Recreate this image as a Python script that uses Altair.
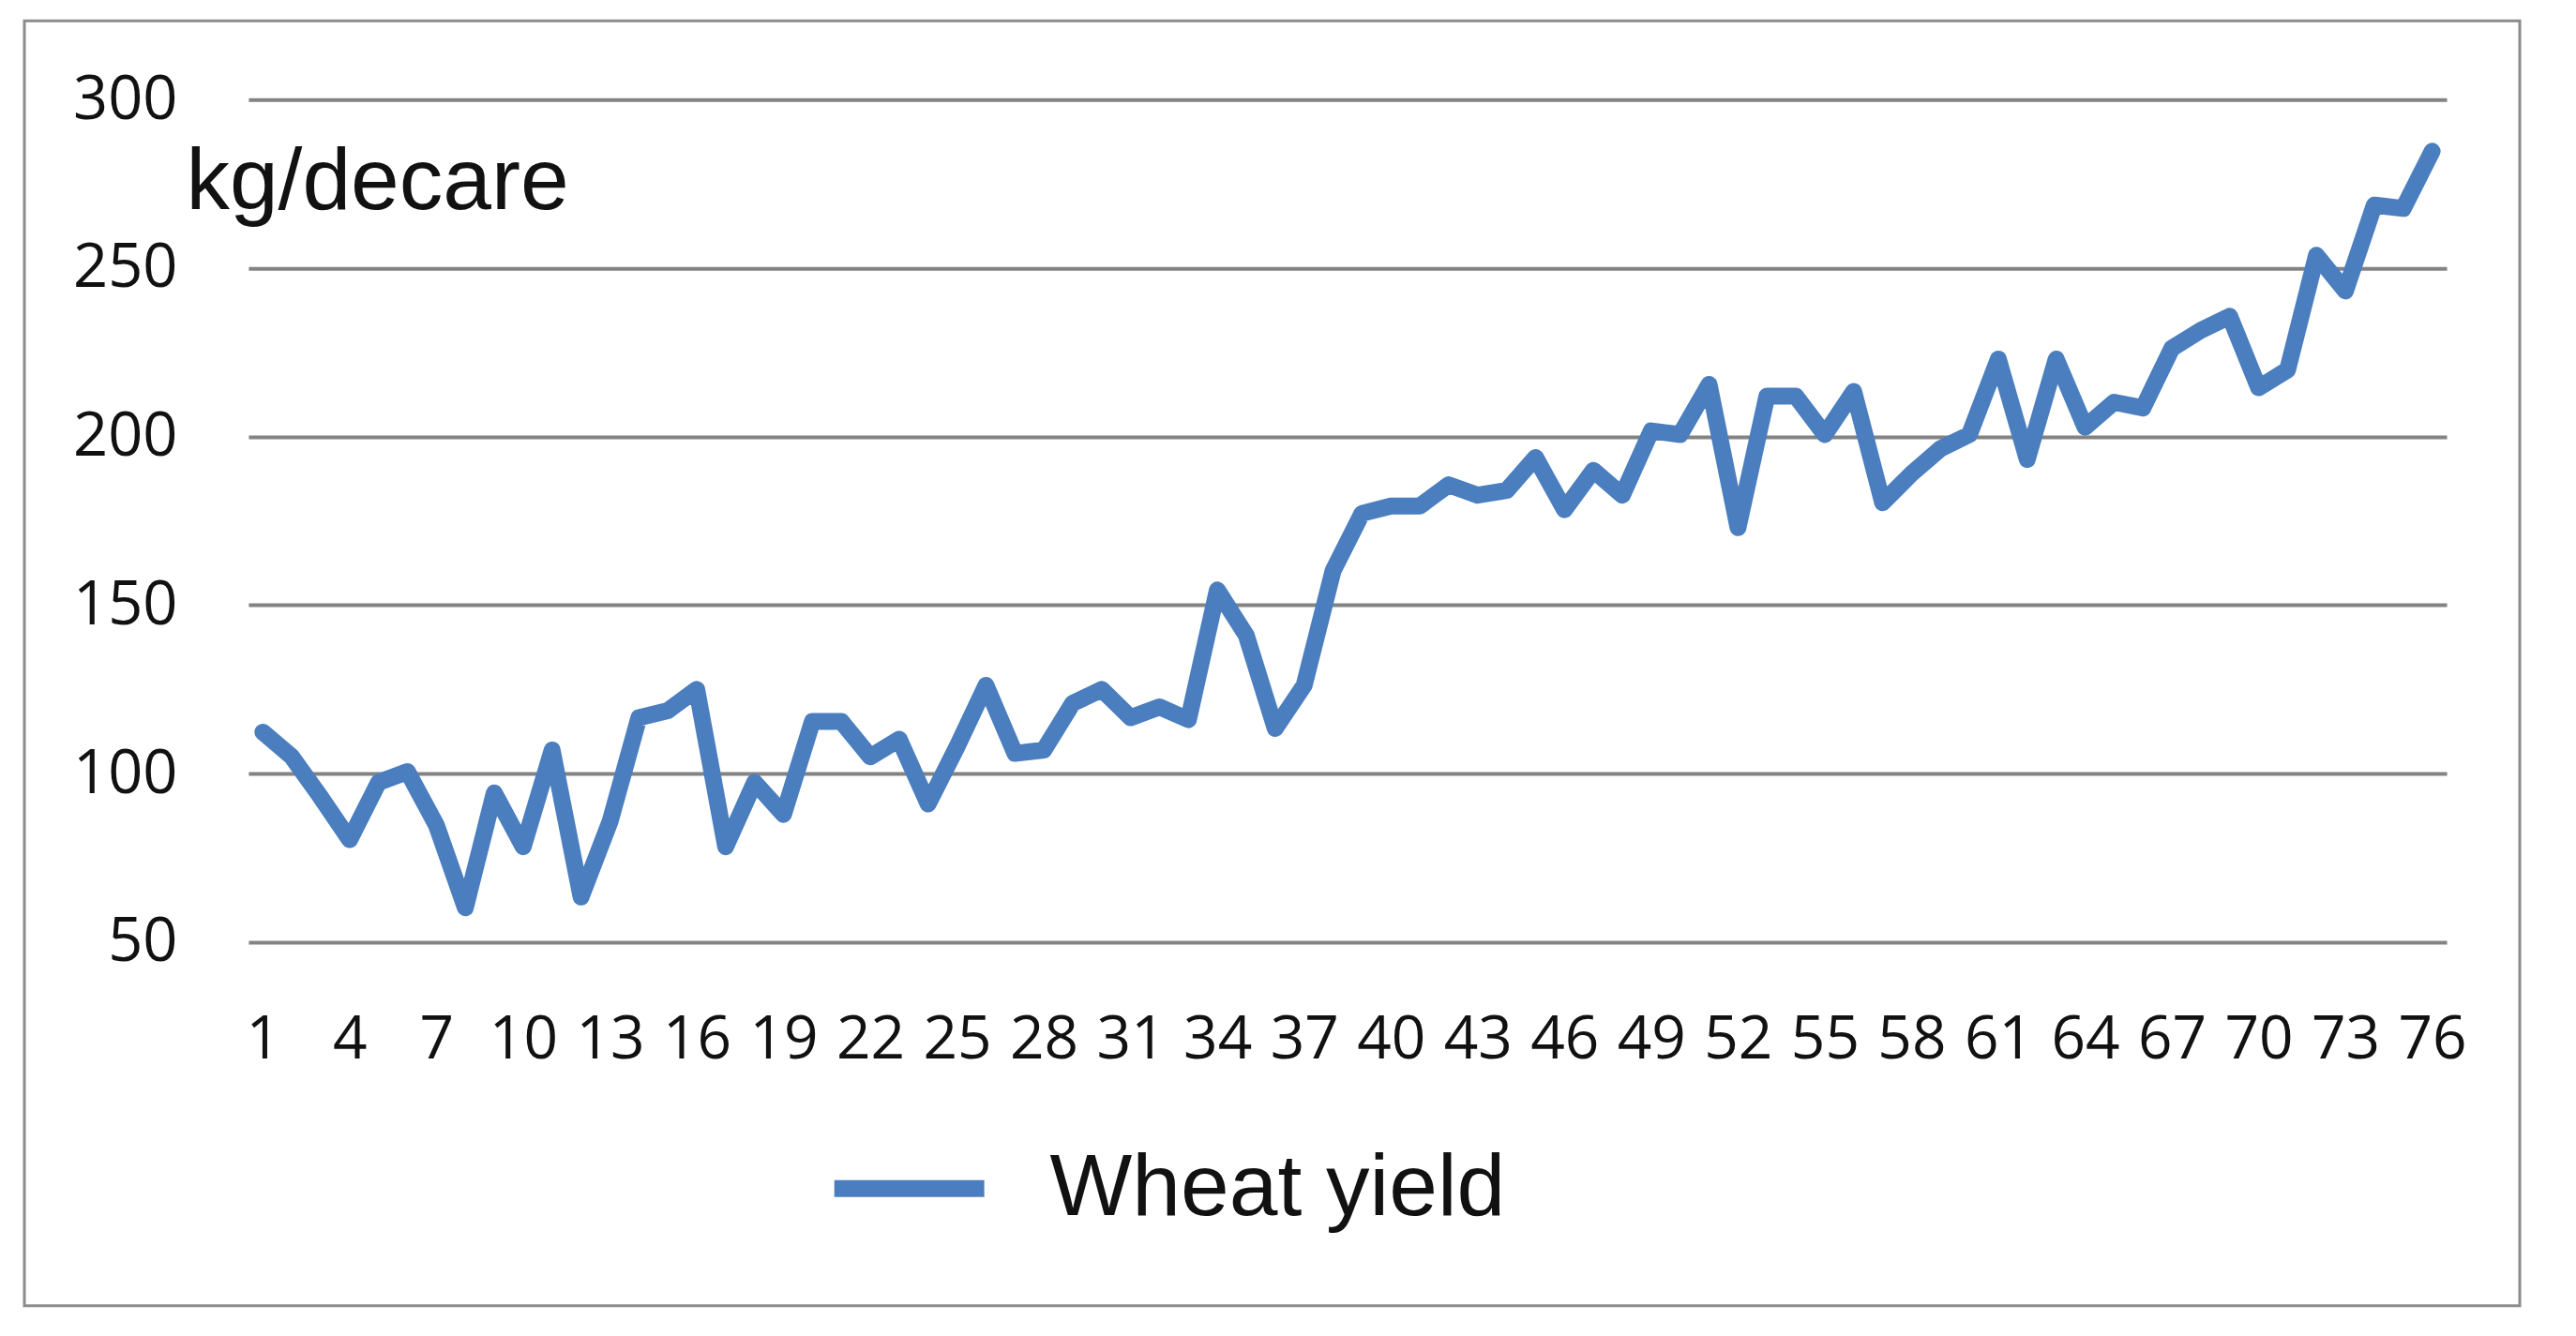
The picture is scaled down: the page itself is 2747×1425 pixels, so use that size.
import altair as alt
import pandas as pd

# Data
periods = list(range(1, 77))
wheat_yield = [
    112.3, 105, 93, 80.4, 97.4, 100.6, 84.7, 60.2, 94.3, 78.3,
    107, 63.4, 85.7, 116.6, 118.7, 125, 78.3, 97.4, 87.9, 115.5,
    115.5, 105, 110.2, 91, 108, 126.2, 106, 107, 120.9, 125,
    116.6, 119.8, 116, 154.5, 141, 113.4, 126.2, 160.2, 177.2, 179.4,
    179.4, 185.7, 182.6, 184, 193.8, 178.3, 190, 182.6, 201.7, 200.6,
    215.5, 173, 212, 212, 200.6, 213.4, 180.4, 189, 196.4, 200.6,
    223, 193.2, 223, 202.8, 210.2, 208.5, 226.2, 231.5, 235.7, 214.5,
    219.8, 253.8, 243.2, 268.7, 267.7, 284.7,
]
series_name = "Wheat yield"
x_tick_labels = list(range(1, 77, 3))
y_ticks = [50, 100, 150, 200, 250, 300]
y_unit = "kg/decare"

df = pd.DataFrame({"period": periods, "value": wheat_yield, "series": [series_name] * len(periods)})

W, H = 2345, 899

line = alt.Chart(df).mark_line(strokeWidth=18, strokeJoin="round", strokeCap="round").encode(
    x=alt.X("period:O", sort=None,
            scale=alt.Scale(type="point", padding=0.5),
            axis=alt.Axis(values=x_tick_labels, labelAngle=0, title=None,
                          ticks=False, domain=False, grid=False,
                          labelFont="Open Sans", labelFontSize=64, labelColor="#111111",
                          labelPadding=73, labelBaseline="top")),
    y=alt.Y("value:Q",
            scale=alt.Scale(domain=[50, 300], nice=False, zero=False),
            axis=alt.Axis(values=y_ticks, ticks=False, domain=False, grid=True,
                          gridColor="#838383", gridWidth=4,
                          labelFont="Open Sans", labelFontSize=65, labelColor="#111111",
                          labelPadding=76,
                          title=y_unit, titleAngle=0, titleX=-67, titleY=116,
                          titleAlign="left", titleBaseline="alphabetic",
                          titleFont="Liberation Sans", titleFontSize=93,
                          titleFontWeight="normal", titleColor="#111111")),
    color=alt.Color("series:N",
                    scale=alt.Scale(range=["#4a7ebf"]),
                    legend=alt.Legend(title=None, orient="none", legendX=616, legendY=1073,
                                      symbolType="stroke", symbolSize=25600,
                                      symbolStrokeWidth=18, labelFont="Liberation Sans",
                                      labelFontSize=93, labelColor="#111111",
                                      labelOffset=61, labelLimit=2000)),
)

frame = alt.Chart(pd.DataFrame({"f": [0]})).mark_rect(
    filled=False, stroke="#8c8c8c", strokeWidth=3
).encode(
    x=alt.value(-239), x2=alt.value(2423), y=alt.value(-84), y2=alt.value(1287)
)

chart = alt.layer(frame, line).properties(
    width=W, height=H,
    autosize=alt.AutoSizeParams(type="none"),
    padding={"left": 257, "top": 98, "right": 130, "bottom": 400},
    background="white",
).configure_view(strokeWidth=0)

chart.save("out.html", embed_options={"renderer": "svg", "actions": False})
